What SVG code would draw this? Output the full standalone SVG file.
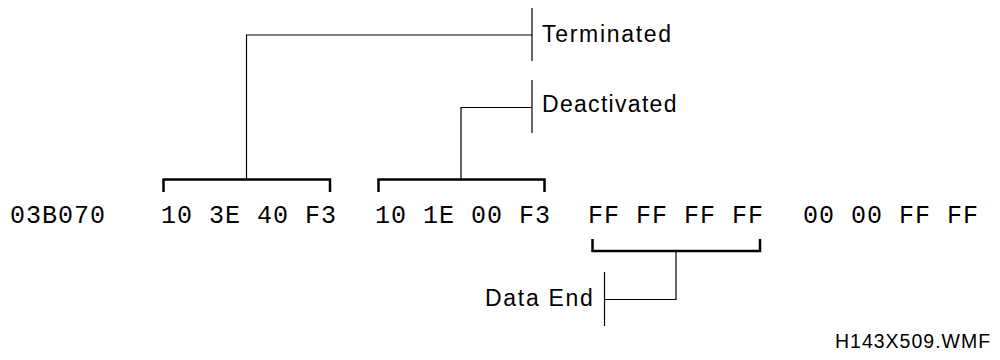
<svg xmlns="http://www.w3.org/2000/svg" width="1000" height="360" viewBox="0 0 1000 360">
<style>
.hex{font-family:"Liberation Mono","Courier New",monospace;font-size:25px;letter-spacing:1px;fill:#000}
.lbl{font-family:"Liberation Sans",Arial,sans-serif;font-size:23px;letter-spacing:1.7px;fill:#000}
.brk{fill:none;stroke:#000;stroke-width:2.5}
.ln{fill:none;stroke:#000;stroke-width:1.2}
</style>
<rect width="1000" height="360" fill="#fff"/>
<g id="hexrow">
<text class="hex" x="10" y="223">03B070</text>
<text class="hex" x="161" y="223">10 3E 40 F3</text>
<text class="hex" x="375" y="223">10 1E 00 F3</text>
<text class="hex" x="588" y="223">FF FF FF FF</text>
<text class="hex" x="803" y="223">00 00 FF FF</text>
</g>
<g id="bracket-terminated">
<path class="brk" d="M163.5,192 V179.5 H330 V192"/>
</g>
<g id="bracket-deactivated">
<path class="brk" d="M378.5,192 V179.5 H544.5 V192"/>
</g>
<g id="bracket-dataend">
<path class="brk" d="M592.5,239 V251 H760 V239"/>
</g>
<g id="label-terminated">
<line class="ln" x1="532" y1="8" x2="532" y2="61"/>
<text class="lbl" x="542" y="42">Terminated</text>
</g>
<g id="label-deactivated">
<line class="ln" x1="532" y1="80" x2="532" y2="133"/>
<text class="lbl" x="542" y="112" style="letter-spacing:1.3px">Deactivated</text>
</g>
<g id="label-dataend">
<line class="ln" x1="604.5" y1="272" x2="604.5" y2="326"/>
<text class="lbl" x="485" y="306">Data End</text>
</g>
<g id="connectors">
<path class="ln" d="M246.5,179.5 V35 H532"/>
<path class="ln" d="M461,179.5 V107.5 H532"/>
<path class="ln" d="M676,251 V299.5 H604.5"/>
</g>
<text x="835" y="348" style="font-family:'Liberation Sans',Arial,sans-serif;font-size:19.5px;letter-spacing:1px;fill:#000">H143X509.WMF</text>
</svg>
